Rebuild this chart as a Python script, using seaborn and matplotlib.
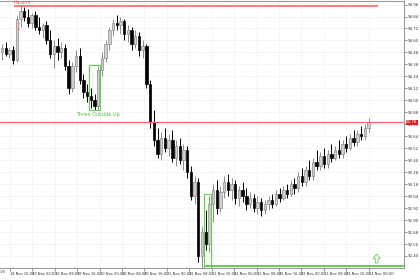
import numpy as np
import pandas as pd
import matplotlib
matplotlib.use("Agg")
import matplotlib.pyplot as plt
import seaborn as sns
from matplotlib.patches import Rectangle, FancyArrow

# ---- data ----
opens = [94.48, 94.52, 94.46, 94.50, 94.40, 94.82, 94.90, 94.84, 94.78, 94.86,
         94.74, 94.70, 94.76, 94.60, 94.46, 94.54, 94.48, 94.52, 94.34, 94.12,
         94.34, 94.44, 94.20, 94.08, 94.04, 94.00, 93.94, 94.30, 94.42, 94.56,
         94.70, 94.78, 94.76, 94.80, 94.66, 94.70, 94.56, 94.64, 94.50, 94.54,
         94.16, 93.78, 93.60, 93.46, 93.62, 93.52, 93.60, 93.42, 93.54, 93.40,
         93.50, 93.28, 93.04, 93.18, 92.44, 92.68, 92.56, 92.96, 93.10, 92.92,
         93.08, 93.18, 93.10, 93.16, 93.02, 93.10, 93.04, 92.96, 93.02, 92.92,
         92.98, 92.90, 92.96, 93.00, 92.96, 93.06, 93.02, 93.10, 93.06, 93.16,
         93.12, 93.24, 93.18, 93.30, 93.24, 93.38, 93.34, 93.44, 93.36, 93.46,
         93.42, 93.50, 93.46, 93.56, 93.52, 93.62, 93.58, 93.66, 93.64, 93.72]
highs = [94.56, 94.58, 94.52, 94.54, 94.86, 94.96, 94.94, 94.92, 94.88, 94.90,
         94.84, 94.78, 94.80, 94.70, 94.60, 94.62, 94.58, 94.56, 94.40, 94.38,
         94.50, 94.52, 94.26, 94.16, 94.12, 94.06, 94.34, 94.48, 94.60, 94.74,
         94.82, 94.86, 94.84, 94.82, 94.76, 94.74, 94.70, 94.68, 94.60, 94.56,
         94.20, 93.90, 93.72, 93.68, 93.72, 93.66, 93.70, 93.60, 93.62, 93.56,
         93.54, 93.34, 93.24, 93.22, 92.74, 92.90, 93.04, 93.16, 93.20, 93.14,
         93.24, 93.26, 93.22, 93.20, 93.14, 93.18, 93.12, 93.08, 93.06, 93.04,
         93.02, 93.00, 93.04, 93.06, 93.10, 93.12, 93.14, 93.16, 93.20, 93.22,
         93.28, 93.32, 93.34, 93.40, 93.42, 93.50, 93.48, 93.52, 93.50, 93.56,
         93.54, 93.60, 93.60, 93.64, 93.66, 93.70, 93.70, 93.74, 93.76, 93.82]
lows = [94.40, 94.44, 94.42, 94.36, 94.38, 94.74, 94.80, 94.74, 94.72, 94.70,
        94.66, 94.62, 94.56, 94.42, 94.32, 94.40, 94.42, 94.30, 94.06, 94.08,
        94.28, 94.16, 94.02, 93.98, 93.92, 93.90, 93.90, 94.24, 94.38, 94.50,
        94.64, 94.70, 94.66, 94.60, 94.58, 94.50, 94.52, 94.44, 94.42, 94.12,
        93.72, 93.54, 93.42, 93.40, 93.48, 93.44, 93.38, 93.34, 93.36, 93.30,
        93.22, 93.00, 92.96, 92.38, 92.32, 92.50, 92.48, 92.78, 92.86, 92.88,
        93.02, 93.04, 93.00, 92.96, 92.94, 92.98, 92.90, 92.92, 92.88, 92.86,
        92.84, 92.86, 92.90, 92.92, 92.94, 92.98, 93.00, 93.02, 93.04, 93.06,
        93.08, 93.14, 93.14, 93.20, 93.20, 93.30, 93.30, 93.32, 93.32, 93.38,
        93.40, 93.42, 93.42, 93.48, 93.50, 93.54, 93.54, 93.60, 93.60, 93.68]
closes = [94.52, 94.46, 94.50, 94.40, 94.82, 94.90, 94.84, 94.78, 94.86, 94.74,
          94.70, 94.76, 94.60, 94.46, 94.54, 94.48, 94.52, 94.34, 94.12, 94.34,
          94.44, 94.20, 94.08, 94.04, 94.00, 93.94, 94.30, 94.42, 94.56, 94.70,
          94.78, 94.76, 94.80, 94.66, 94.70, 94.56, 94.64, 94.50, 94.54, 94.16,
          93.78, 93.60, 93.46, 93.62, 93.52, 93.60, 93.42, 93.54, 93.40, 93.50,
          93.28, 93.04, 93.18, 92.44, 92.68, 92.56, 92.96, 93.10, 92.92, 93.08,
          93.18, 93.10, 93.16, 93.02, 93.10, 93.04, 92.96, 93.02, 92.92, 92.98,
          92.90, 92.96, 93.00, 92.96, 93.06, 93.02, 93.10, 93.06, 93.16, 93.12,
          93.24, 93.18, 93.30, 93.24, 93.38, 93.34, 93.44, 93.36, 93.46, 93.42,
          93.50, 93.46, 93.56, 93.52, 93.62, 93.58, 93.66, 93.64, 93.72, 93.78]

time_labels = ["18 Nov 16:00", "19 Nov 00:00", "19 Nov 08:00", "19 Nov 16:00",
               "20 Nov 00:00", "20 Nov 08:00", "20 Nov 16:00", "21 Nov 00:00",
               "21 Nov 08:00", "21 Nov 16:00", "22 Nov 00:00", "22 Nov 08:00",
               "22 Nov 16:00", "23 Nov 00:00", "23 Nov 08:00", "23 Nov 16:00",
               "24 Nov 00:00"]
first_label = "18 Nov 2025"

harami_level = 94.95
current_price = 93.78
pattern1_label = "Three Outside Up"
pattern1_bars = (24, 26)
pattern1_range = (93.90, 94.35)
pattern2_bars = (55, 56)
pattern2_range = (92.32, 93.06)
pattern2_level = 92.34

df = pd.DataFrame({"open": opens, "high": highs, "low": lows, "close": closes})
df["idx"] = np.arange(len(df))
df["bull"] = df["close"] >= df["open"]

sns.set_theme(style="white")
plt.rcParams["font.family"] = ["DejaVu Sans"]

fig = plt.figure(figsize=(4.2, 2.8), dpi=100)
ax = fig.add_axes([0.0, 0.043, 0.962, 0.955])

y_lo, y_hi = 92.32, 95.00
ax.set_ylim(y_lo, y_hi)
ax.set_xlim(-0.55, 108.6)

# grid
yt = np.round(np.arange(92.44, 94.97, 0.12), 2)
xt = 2.16 + 6.054 * np.arange(len(time_labels))
for y in yt:
    ax.axhline(y, color="#d9d9d9", lw=0.5, ls=(0, (1, 2)), zorder=0)
for x in xt:
    ax.axvline(x, color="#d9d9d9", lw=0.5, ls=(0, (1, 2)), zorder=0)

# candles
bull = df[df["bull"]]
bear = df[~df["bull"]]
ax.vlines(bull["idx"], bull["low"], bull["high"], color="#8c8c8c", lw=0.7, zorder=2)
ax.vlines(bear["idx"], bear["low"], bear["high"], color="#000000", lw=0.7, zorder=2)
ax.bar(bull["idx"], (bull["close"] - bull["open"]).clip(lower=0.01), bottom=bull["open"],
       width=0.65, color="#cfcfcf", edgecolor="#8c8c8c", linewidth=0.5, zorder=3)
ax.bar(bear["idx"], (bear["open"] - bear["close"]).clip(lower=0.01), bottom=bear["close"],
       width=0.65, color="#000000", edgecolor="#000000", linewidth=0.5, zorder=3)

# Harami line and label
ax.hlines(harami_level, 3.2, 101.6, color="#ff6666", lw=1.2, zorder=4)
ax.text(3.2, harami_level + 0.005, "Harami", color="#ff4d4d", fontsize=3.4,
        va="bottom", ha="left", zorder=5)
ax.plot([4.6, 4.2, 4.2, 4.6], [94.78, 94.78, 94.71, 94.71], color="#ff6666", lw=0.6, zorder=5)

# current price line
ax.axhline(current_price, color="#ff6666", lw=0.9, zorder=4)

# pattern 1
g = "#66cc55"
ax.add_patch(Rectangle((pattern1_bars[0] - 0.4, pattern1_range[0]),
                       pattern1_bars[1] - pattern1_bars[0] + 0.8,
                       pattern1_range[1] - pattern1_range[0],
                       fill=False, edgecolor=g, lw=0.8, zorder=4))
ax.text((pattern1_bars[0] + pattern1_bars[1]) / 2 + 1.0, pattern1_range[0] - 0.02,
        pattern1_label, color="#55bb44", fontsize=3.6, ha="center", va="top", zorder=5)

# pattern 2
ax.add_patch(Rectangle((pattern2_bars[0] - 0.4, pattern2_range[0]),
                       pattern2_bars[1] - pattern2_bars[0] + 0.8,
                       pattern2_range[1] - pattern2_range[0],
                       fill=False, edgecolor=g, lw=0.8, zorder=4))
ax.hlines(pattern2_level, pattern2_bars[0] - 0.4, 108.6, color=g, lw=1.4, zorder=4)
ax.add_patch(FancyArrow(101.2, 92.37, 0, 0.09, width=0.7, head_width=1.9,
                        head_length=0.045, fill=False, edgecolor=g, lw=0.6,
                        length_includes_head=True, zorder=5))

# axes styling
ax.spines["left"].set_visible(False)
for side in ["right", "bottom", "top"]:
    ax.spines[side].set_color("#9a9a9a")
    ax.spines[side].set_linewidth(0.8)
ax.yaxis.tick_right()
ax.set_yticks(yt)
ax.set_yticklabels([f"{v:.2f}" for v in yt])
ax.tick_params(axis="y", which="both", right=True, length=2, width=0.5, color="#666666",
               labelsize=2.8, pad=1, labelcolor="#333333")
ax.set_xticks(xt)
ax.set_xticklabels(time_labels, ha="left")
ax.tick_params(axis="x", which="both", bottom=True, length=2, width=0.5, color="#666666",
               labelsize=2.6, pad=1, labelcolor="#333333")
ax.text(0.012, -0.008, first_label, transform=ax.transAxes, fontsize=2.6,
        color="#333333", ha="right", va="top")
ax.grid(False)

# current price box on the axis
ax.annotate(f"{current_price:.2f}", xy=(1.0, current_price),
            xycoords=("axes fraction", "data"), xytext=(1.5, 0),
            textcoords="offset points", fontsize=2.8, color="white",
            ha="left", va="center",
            bbox=dict(boxstyle="square,pad=0.1", fc="#e02020", ec="none"),
            annotation_clip=False, zorder=6)

fig.savefig("out.png", dpi=100, facecolor="white")
